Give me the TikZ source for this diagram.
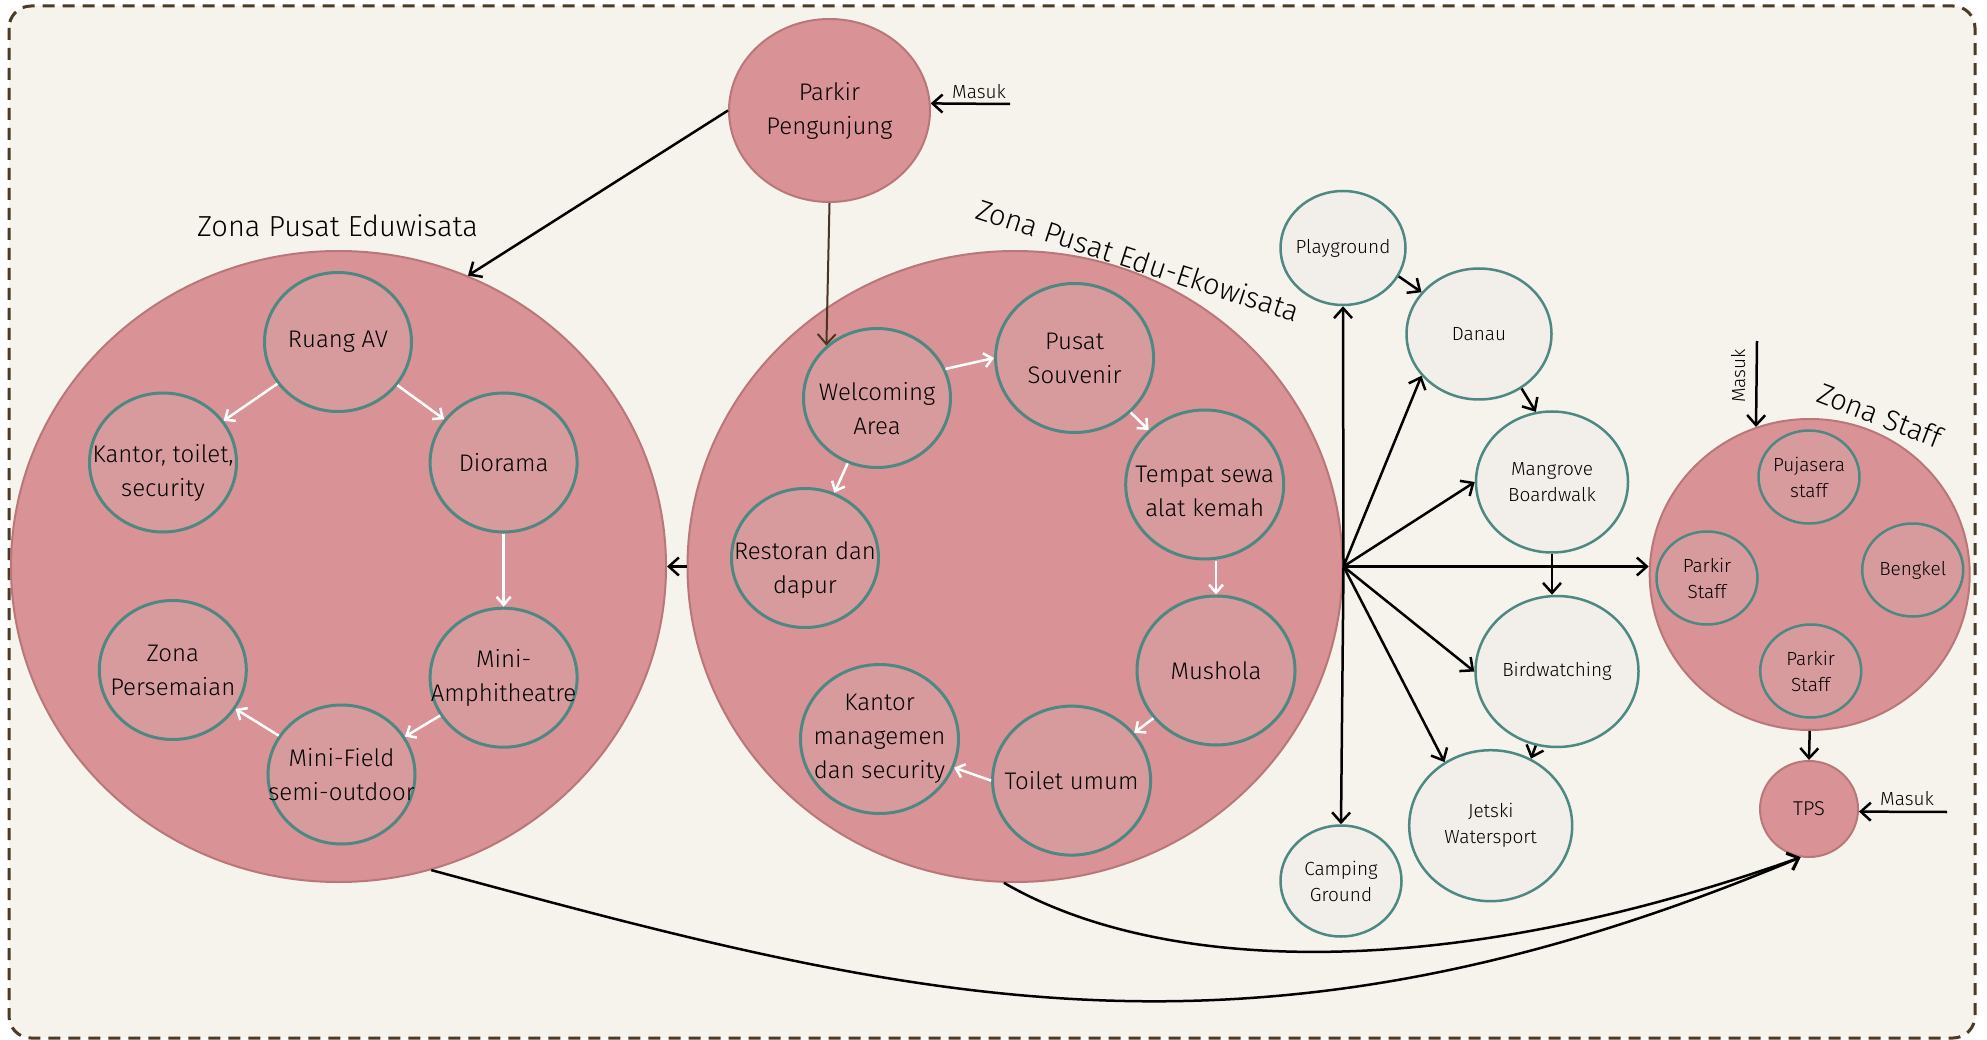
\documentclass[tikz,border=0pt]{standalone}
\usepackage{fontspec}
\setmainfont{Fira Sans Light}
\usepackage{tikz}
\usetikzlibrary{shapes.geometric, arrows.meta}
\definecolor{bgcream}{RGB}{246,242,236}
\definecolor{framebrown}{RGB}{75,58,38}
\definecolor{zonepink}{RGB}{217,146,149}
\definecolor{zoneline}{RGB}{184,120,121}
\definecolor{roompink}{RGB}{216,155,157}
\definecolor{tealline}{RGB}{78,136,130}
\definecolor{spotfill}{RGB}{242,238,234}
\definecolor{entrybrown}{RGB}{74,53,32}
\tikzstyle{zone} = [ellipse, draw=zoneline, fill=zonepink, line width=2pt, inner sep=0pt, align=center]
\tikzstyle{roomtext} = [align=center, font=\fontsize{24}{34}\selectfont]
\tikzstyle{room} = [ellipse, draw=tealline, fill=roompink, line width=3pt, inner sep=-40pt, minimum width=147pt, minimum height=139pt, roomtext]
\tikzstyle{bigroom} = [room, minimum width=158pt, minimum height=149pt]
\tikzstyle{spot} = [ellipse, draw=tealline, fill=spotfill, line width=2.5pt, inner sep=-40pt, align=center, font=\fontsize{19}{26}\selectfont]
\tikzstyle{staffroom} = [ellipse, draw=tealline, fill=roompink, line width=2.5pt, inner sep=-30pt, minimum width=101pt, minimum height=93pt, align=center, font=\fontsize{19}{26}\selectfont]
\tikzstyle{zonetitle} = [font=\fontsize{29}{34}\selectfont]
\tikzstyle{tag} = [font=\fontsize{19}{22}\selectfont, inner sep=0pt]
\tikzstyle{arrow} = [line width=2.5pt, -{Straight Barb[length=10pt, width=18pt]}]
\tikzstyle{flow} = [white, line width=2.5pt, -{Straight Barb[length=8pt, width=14pt]}]
\begin{document}
\begin{tikzpicture}[x=1pt, y=-1pt]
	\useasboundingbox (0,0) rectangle (1987,1040);
	\fill [white] (0,0) rectangle (1987,1040);
	\draw [framebrown, fill=bgcream, line width=3pt, dash pattern=on 12pt off 8pt, rounded corners=22pt] (9,6) rectangle (1975,1038);
	\node (edu) [zone, minimum width=655pt, minimum height=631pt] at (338.5,566.5) {};
	\node (eko) [zone, minimum width=655pt, minimum height=631pt] at (1015,566.5) {};
	\node (stf) [zone, minimum width=320pt, minimum height=311pt] at (1809.7,574.5) {};
	\node (pp) [zone, minimum width=201pt, minimum height=183pt, font=\fontsize{24}{34}\selectfont] at (829.5,110.5) {Parkir\\Pengunjung};
	\node (tps) [zone, minimum width=98pt, minimum height=96pt, font=\fontsize{20}{24}\selectfont] at (1809,809) {TPS};
	\node (edutitle) [zonetitle, anchor=base] at (337.5,237) {Zona Pusat Eduwisata};
	\node (ekotitle) [zonetitle, rotate=-18] at (1138,260) {Zona Pusat Edu-Ekowisata};
	\node (stftitle) [zonetitle, rotate=-21] at (1880,415) {Zona Staff};
	\node (rav) [room] at (338,342) {Ruang AV};
	\node (kts) [room] at (163,462.5) {};
	\node (ktstxt) [roomtext] at ([yshift=-10pt]kts.center) {Kantor, toilet,\\security};
	\node (dio) [room] at (503.6,462.5) {Diorama};
	\node (mat) [room] at (503.6,677.7) {Mini-\\Amphitheatre};
	\node (mfs) [room] at (341.5,774.5) {Mini-Field\\semi-outdoor};
	\node (zps) [room] at (172.8,670) {Zona\\Persemaian};
	\node (wa) [room] at (877,398) {};
	\node (watxt) [roomtext] at ([yshift=-11pt]wa.center) {Welcoming\\Area};
	\node (ps) [bigroom] at (1074.6,358) {Pusat\\Souvenir};
	\node (tsk) [bigroom] at (1204.7,484.5) {};
	\node (tsktxt) [roomtext] at ([yshift=-7pt]tsk.center) {Tempat sewa\\alat kemah};
	\node (rd) [room] at (805,558) {};
	\node (rdtxt) [roomtext] at ([yshift=-12pt]rd.center) {Restoran dan\\dapur};
	\node (msh) [bigroom] at (1216,670.5) {Mushola};
	\node (tu) [bigroom] at (1071.6,780.6) {Toilet umum};
	\node (km) [bigroom] at (879.5,739) {Kantor\\managemen\\dan security};
	\node (pg) [spot, minimum width=125pt, minimum height=114pt] at (1343,248) {Playground};
	\node (dn) [spot, minimum width=145pt, minimum height=131pt] at (1479,334) {Danau};
	\node (mg) [spot, minimum width=152pt, minimum height=141pt] at (1552,482) {Mangrove\\Boardwalk};
	\node (bw) [spot, minimum width=163pt, minimum height=151pt] at (1557,671.5) {Birdwatching};
	\node (js) [spot, minimum width=163pt, minimum height=151pt] at (1490.7,825.7) {Jetski\\Watersport};
	\node (cg) [spot, minimum width=121pt, minimum height=111pt] at (1341,881) {Camping\\Ground};
	\node (pjs) [staffroom] at (1809,477) {Pujasera\\staff};
	\node (pks1) [staffroom] at (1707,578) {Parkir\\Staff};
	\node (bgk) [staffroom] at (1912.7,570) {Bengkel};
	\node (pks2) [staffroom] at (1810.7,671) {Parkir\\Staff};
	\draw [flow] (rav) -- (kts);
	\draw [flow] (rav) -- (dio);
	\draw [flow] (dio) -- (mat);
	\draw [flow] (mat) -- (mfs);
	\draw [flow] (mfs) -- (zps);
	\draw [flow] (wa.23) -- (ps.west);
	\draw [flow] (ps) -- (tsk);
	\draw [flow] (tsk.south -| msh.north) -- (msh.north);
	\draw [flow] (msh) -- (tu);
	\draw [flow] (tu.west) -- (km.-21);
	\draw [flow] (wa) -- (rd);
	\coordinate (in1) at (1010,104);
	\coordinate (in2) at (1757,341);
	\coordinate (in3) at (1947,812);
	\draw [arrow] (in1) -- (pp.4);
	\node (in1lbl) [tag, anchor=base] at (979,99) {Masuk};
	\draw [arrow] (in2) -- (stf.110);
	\node (in2lbl) [tag, rotate=90, anchor=base] at (1745,376) {Masuk};
	\draw [arrow] (in3) -- (tps.-3);
	\node (in3lbl) [tag, anchor=base] at (1907,805) {Masuk};
	\draw [arrow] (pp.west) -- (edu.66);
	\draw [arrow, entrybrown, line width=2pt] (pp.south) -- (wa.134);
	\draw [arrow] (eko.west) -- (edu.east);
	\draw [arrow] (eko.east) -- (pg.south);
	\draw [arrow] (eko.east) -- (cg.north);
	\draw [arrow] (eko.east) -- (dn.216);
	\draw [arrow] (eko.east) -- (mg.west);
	\draw [arrow] (eko.east) -- (eko.east -| stf.west);
	\draw [arrow] (eko.east) -- (bw.west);
	\draw [arrow] (eko.east) -- (js.126);
	\draw [arrow] (pg.-27) -- (dn.144);
	\draw [arrow] (dn.-52) -- (mg.103);
	\draw [arrow] (mg.south) -- (mg.south |- bw.north);
	\draw [arrow] (bw.-106) -- (js.59);
	\draw [arrow] (stf.south) -- (tps.north);
	\draw [arrow] (edu.-73) .. controls (914,1001) and (1247,1089) .. (tps.-100);
	\draw [arrow] (eko.-92) .. controls (1148,967) and (1423,991) .. (tps.-100);
\end{tikzpicture}
\end{document}
